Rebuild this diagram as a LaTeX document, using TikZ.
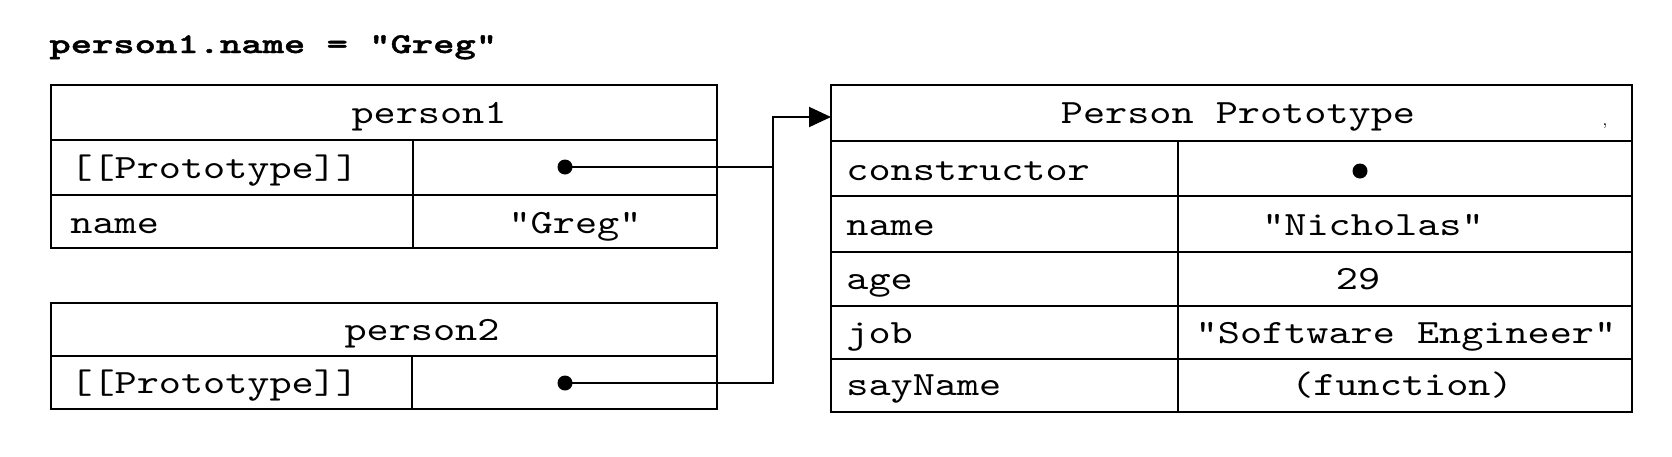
\documentclass[tikz,border=0pt]{standalone}
\usepackage{fontspec}
\newfontfamily\cour{lmmono10-regular}[Extension=.otf, FakeStretch=1.24]
\newfontfamily\courbf{lmmonolt10-bold}[Extension=.otf, FakeStretch=1.42, FakeBold=1.5]
\usetikzlibrary{arrows.meta}
\newcommand\mycell[5]{%
  \node[cell, minimum width={(#4-#2)*0.5pt}, minimum height={(#5-#3)*0.5pt}] (#1) at (#2,#3) {};}
\begin{document}
\begin{tikzpicture}[x=0.5pt,y=-0.5pt,
  cell/.style={draw, line width=1.2pt, inner sep=0pt, outer sep=0pt, anchor=north west},
  lbl/.style={font=\cour\fontsize{17}{19}\selectfont, inner sep=0pt},
  ttl/.style={font=\courbf\fontsize{14.3}{16}\selectfont, inner sep=0pt},
  dot/.style={circle, fill, inner sep=0pt, minimum size=7.5pt},
  link/.style={line width=1pt}]
\useasboundingbox (0,0) rectangle (1672,456);

% title
\node[ttl, anchor=base west] (title) at (49,53) {person1.name = "Greg"};

% person1
\mycell{p1h}{51}{85}{717}{140}
\mycell{p1al}{51}{140}{413}{195}
\mycell{p1ar}{413}{140}{717}{195}
\mycell{p1bl}{51}{195}{413}{248}
\mycell{p1br}{413}{195}{717}{248}
\node[lbl, anchor=base] (t1) at (429,123) {person1};
\node[lbl, anchor=base west] (t2) at (70,178) {[[Prototype]]};
\node[lbl, anchor=base west] (t3) at (70,233) {name};
\node[lbl, anchor=base] (t4) at (575,233) {"Greg"};
\node[dot] (d1) at (565,167) {};

% person2
\mycell{p2h}{51}{303}{717}{356}
\mycell{p2al}{51}{356}{412}{409}
\mycell{p2ar}{412}{356}{717}{409}
\node[lbl, anchor=base] (t5) at (422,340) {person2};
\node[lbl, anchor=base west] (t6) at (70,393) {[[Prototype]]};
\node[dot] (d2) at (565,383) {};

% Person Prototype
\mycell{pph}{831}{85}{1632}{141}
\mycell{pp1l}{831}{141}{1178}{196}
\mycell{pp1r}{1178}{141}{1632}{196}
\mycell{pp2l}{831}{196}{1178}{252}
\mycell{pp2r}{1178}{196}{1632}{252}
\mycell{pp3l}{831}{252}{1178}{306}
\mycell{pp3r}{1178}{252}{1632}{306}
\mycell{pp4l}{831}{306}{1178}{359}
\mycell{pp4r}{1178}{306}{1632}{359}
\mycell{pp5l}{831}{359}{1178}{412}
\mycell{pp5r}{1178}{359}{1632}{412}
\node[lbl, anchor=base] (u0) at (1238,123) {Person Prototype};
\node[lbl, anchor=base west] (u1) at (846,180) {constructor};
\node[lbl, anchor=base west] (u2) at (846,235) {name};
\node[lbl, anchor=base west] (u3) at (846,289) {age};
\node[lbl, anchor=base west] (u4) at (846,343) {job};
\node[lbl, anchor=base west] (u5) at (846,395) {sayName};
\node[dot] (d3) at (1360,171) {};
\node[lbl, anchor=base] (v2) at (1373,235) {"Nicholas"};
\node[lbl, anchor=base] (v3) at (1358,289) {29};
\node[lbl, anchor=base] (v4) at (1406,343) {"Software Engineer"};
\node[lbl, anchor=base] (v5) at (1402,395) {(function)};
\node[font=\fontsize{8}{8}\selectfont, inner sep=0pt] (mk) at (1605,126) {,};

% connectors
\coordinate (j1) at (773,167);
\coordinate (bend) at (773,117);
\draw[link] (d1.center) -- (j1);
\draw[link, -{Triangle[length=11pt,width=10pt]}] (d2.center) -| (bend) -- (pph.west |- bend);
\end{tikzpicture}
\end{document}
